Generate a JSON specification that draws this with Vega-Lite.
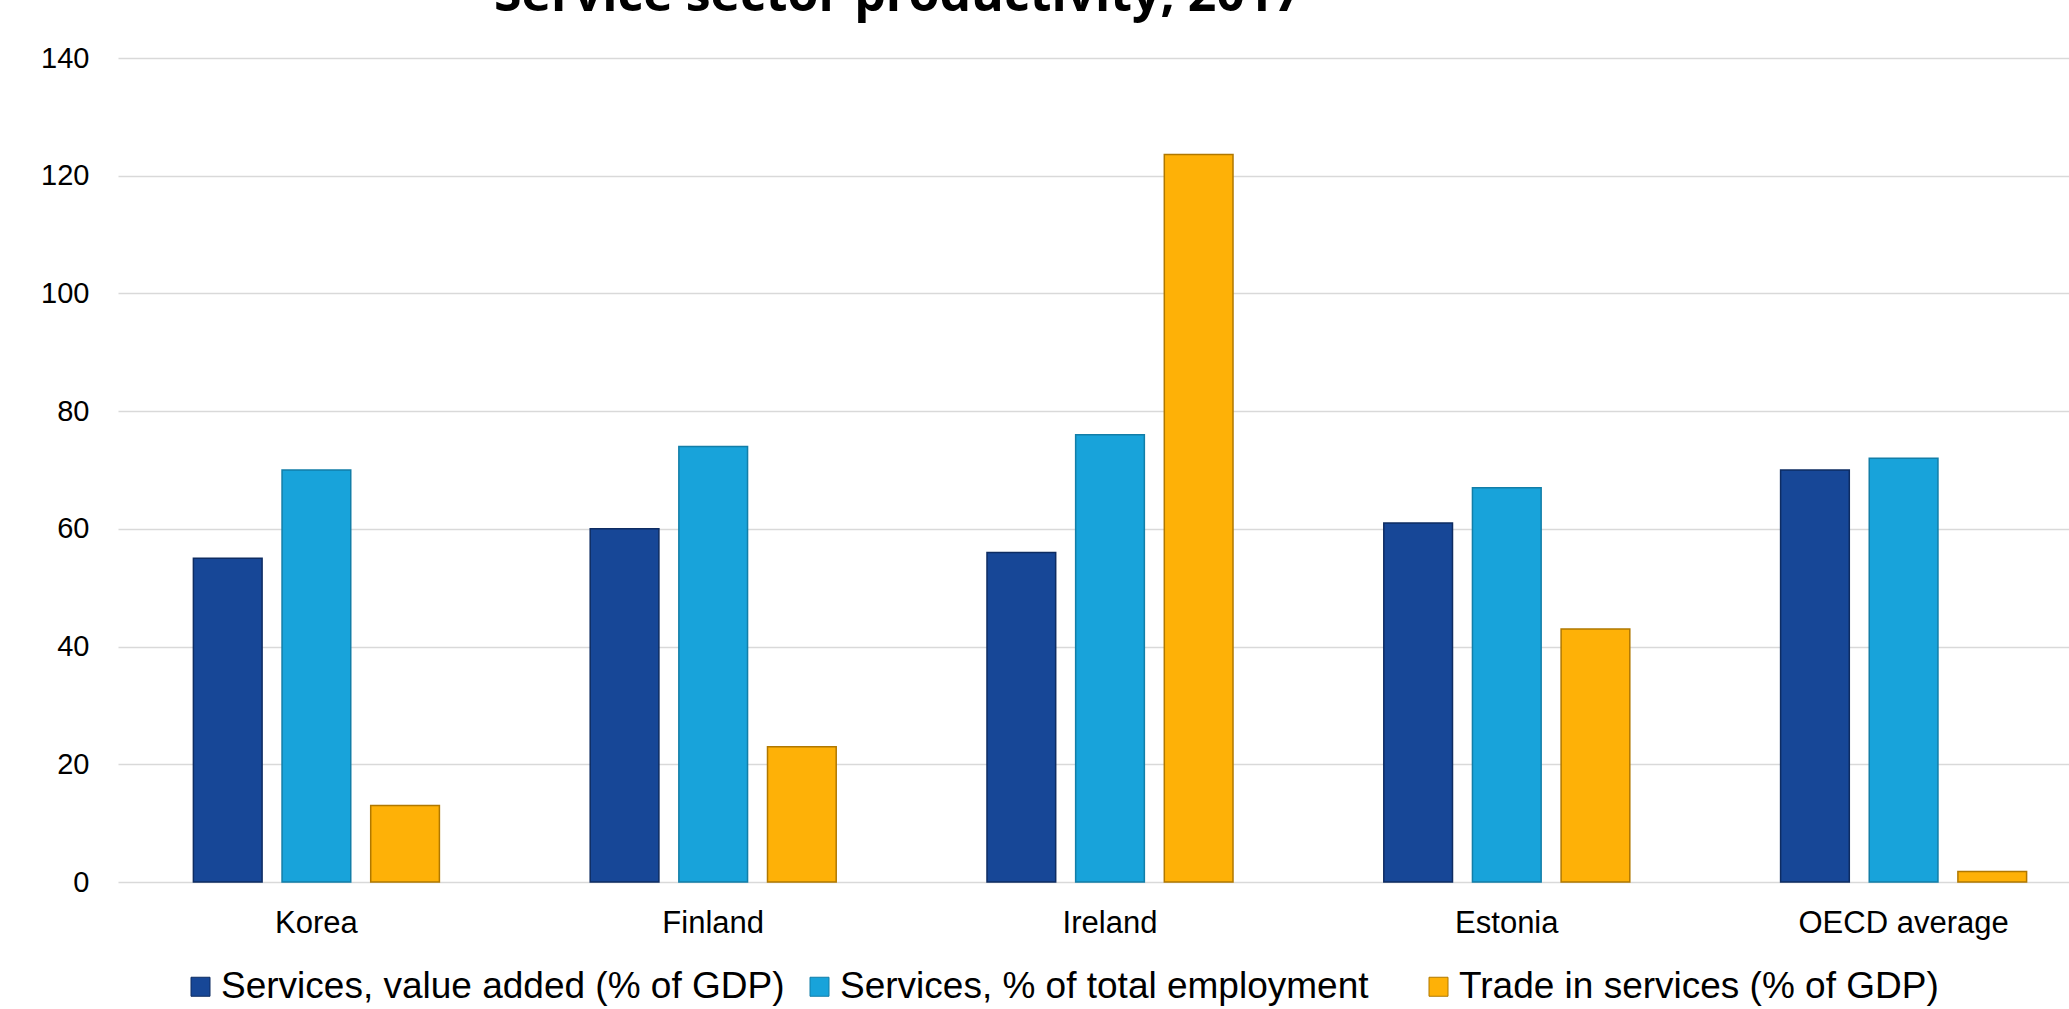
{
  "$schema": "https://vega.github.io/schema/vega-lite/v6.json",
  "autosize": "none",
  "padding": {"left": 118, "top": 58, "right": 0, "bottom": 127},
  "width": 1951,
  "height": 824,
  "background": "white",
  "title": {
    "text": "Service sector productivity, 2017",
    "font": "Open Sans",
    "fontSize": 50,
    "fontWeight": "bold",
    "color": "#000000",
    "anchor": "start",
    "frame": "group",
    "baseline": "alphabetic",
    "dx": 376,
    "dy": 51,
    "offset": 34
  },
  "data": {
    "values": [
      {"country": "Korea", "series": "Services, value added (% of GDP)", "value": 55},
      {"country": "Korea", "series": "Services, % of total employment", "value": 70},
      {"country": "Korea", "series": "Trade in services (% of GDP)", "value": 13},
      {"country": "Finland", "series": "Services, value added (% of GDP)", "value": 60},
      {"country": "Finland", "series": "Services, % of total employment", "value": 74},
      {"country": "Finland", "series": "Trade in services (% of GDP)", "value": 23},
      {"country": "Ireland", "series": "Services, value added (% of GDP)", "value": 56},
      {"country": "Ireland", "series": "Services, % of total employment", "value": 76},
      {"country": "Ireland", "series": "Trade in services (% of GDP)", "value": 123.6},
      {"country": "Estonia", "series": "Services, value added (% of GDP)", "value": 61},
      {"country": "Estonia", "series": "Services, % of total employment", "value": 67},
      {"country": "Estonia", "series": "Trade in services (% of GDP)", "value": 43},
      {"country": "OECD average", "series": "Services, value added (% of GDP)", "value": 70},
      {"country": "OECD average", "series": "Services, % of total employment", "value": 72},
      {"country": "OECD average", "series": "Trade in services (% of GDP)", "value": 1.8}
    ]
  },
  "mark": {"type": "bar", "strokeWidth": 1.5},
  "encoding": {
    "x": {
      "field": "country",
      "type": "nominal",
      "sort": ["Korea", "Finland", "Ireland", "Estonia", "OECD average"],
      "scale": {"range": [0, 1984], "paddingInner": 0.38, "paddingOuter": 0.19},
      "axis": {
        "title": null,
        "labelAngle": 0,
        "labelFont": "Liberation Sans",
        "labelFontSize": 31,
        "labelColor": "#000000",
        "labelPadding": 26,
        "labelLimit": 500,
        "ticks": false,
        "tickSize": 0,
        "domain": false,
        "grid": false
      }
    },
    "xOffset": {
      "field": "series",
      "type": "nominal",
      "sort": ["Services, value added (% of GDP)", "Services, % of total employment", "Trade in services (% of GDP)"],
      "scale": {"paddingInner": 0.225, "paddingOuter": 0}
    },
    "y": {
      "field": "value",
      "type": "quantitative",
      "scale": {"domain": [0, 140], "nice": false},
      "axis": {
        "title": null,
        "values": [0, 20, 40, 60, 80, 100, 120, 140],
        "labelFont": "Liberation Sans",
        "labelFontSize": 29,
        "labelColor": "#000000",
        "labelPadding": 29,
        "ticks": false,
        "tickSize": 0,
        "domain": false,
        "grid": true,
        "gridColor": "#D9D9D9",
        "gridWidth": 1.5
      }
    },
    "color": {
      "field": "series",
      "type": "nominal",
      "sort": ["Services, value added (% of GDP)", "Services, % of total employment", "Trade in services (% of GDP)"],
      "scale": {
        "domain": ["Services, value added (% of GDP)", "Services, % of total employment", "Trade in services (% of GDP)"],
        "range": ["#174797", "#18A3DA", "#FEB107"]
      },
      "legend": {
        "title": null,
        "orient": "none",
        "direction": "horizontal",
        "legendX": 64,
        "legendY": 910,
        "padding": 0,
        "gridAlign": "all",
        "symbolType": "square",
        "symbolSize": 361,
        "symbolStrokeWidth": 1,
        "labelFont": "Liberation Sans",
        "labelFontSize": 37,
        "labelColor": "#000000",
        "labelOffset": 2,
        "columnPadding": 16,
        "labelLimit": 1000
      }
    },
    "stroke": {
      "field": "series",
      "type": "nominal",
      "scale": {
        "domain": ["Services, value added (% of GDP)", "Services, % of total employment", "Trade in services (% of GDP)"],
        "range": ["#0E2C62", "#127EA8", "#B07800"]
      },
      "legend": null
    }
  },
  "config": {"view": {"stroke": null}}
}
